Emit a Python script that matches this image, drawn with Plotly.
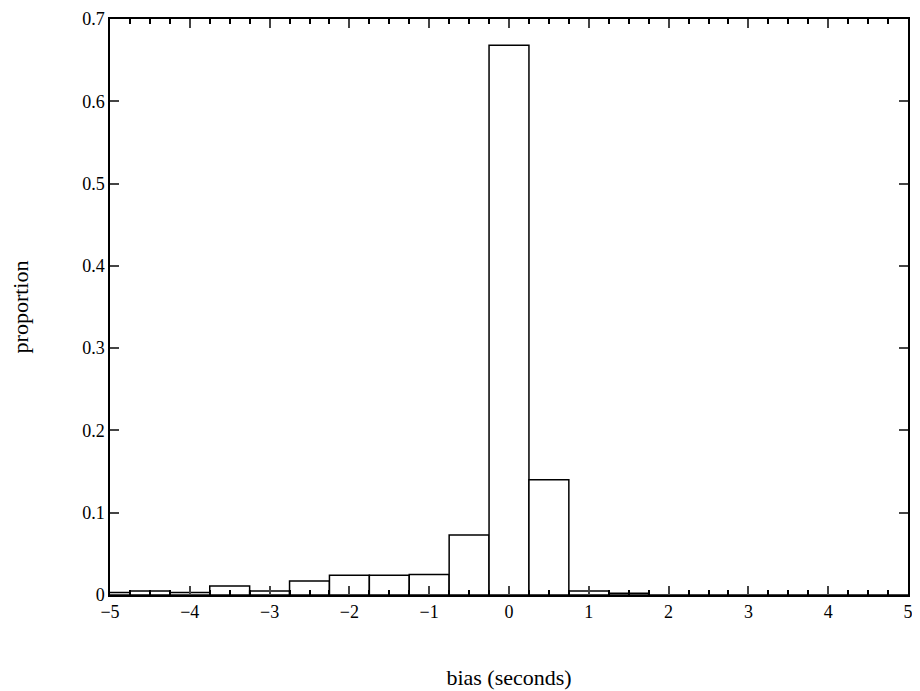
import plotly.graph_objects as go

# bin centres (width 0.5) and proportions
bin_centers = [-5.0, -4.5, -4.0, -3.5, -3.0, -2.5, -2.0, -1.5, -1.0, -0.5,
               0.0, 0.5, 1.0, 1.5, 2.0, 2.5, 3.0, 3.5, 4.0, 4.5, 5.0]
proportion = [0.003, 0.005, 0.003, 0.011, 0.005, 0.017, 0.024, 0.024, 0.025, 0.073,
              0.668, 0.140, 0.005, 0.002, 0, 0, 0, 0, 0, 0, 0]
x_ticks = [-5, -4, -3, -2, -1, 0, 1, 2, 3, 4, 5]
x_labels = ["\u22125", "\u22124", "\u22123", "\u22122", "\u22121", "0", "1", "2", "3", "4", "5"]
y_ticks = [0, 0.1, 0.2, 0.3, 0.4, 0.5, 0.6, 0.7]
y_labels = ["0", "0.1", "0.2", "0.3", "0.4", "0.5", "0.6", "0.7"]

fig = go.Figure()
fig.add_trace(go.Bar(x=bin_centers, y=proportion, width=0.5,
                     marker=dict(color="white", line=dict(color="black", width=1.5))))

font = dict(family="Liberation Serif, Times New Roman, serif", size=18, color="black")
fig.update_layout(
    width=920, height=691, plot_bgcolor="white", paper_bgcolor="white",
    margin=dict(l=102, r=20, t=11, b=104), font=font, showlegend=False,
    xaxis=dict(range=[-5, 5], tickvals=x_ticks, ticktext=x_labels, automargin=False,
               ticks="inside", ticklen=9, tickwidth=1.5, mirror="ticks",
               showline=True, linecolor="black", linewidth=1.5, showgrid=False, zeroline=False,
               minor=dict(dtick=0.25, ticks="inside", ticklen=5, tickcolor="black", showgrid=False),
               title=dict(text="bias (seconds)", standoff=48)),
    yaxis=dict(range=[0, 0.7], tickvals=y_ticks, ticktext=y_labels, automargin=False,
               ticks="inside", ticklen=9, tickwidth=1.5,
               mirror="ticks", showline=True, linecolor="black", linewidth=1.5,
               showgrid=False, zeroline=False,
               title=dict(text="proportion", standoff=58)),
)
fig.write_html("out.html")
